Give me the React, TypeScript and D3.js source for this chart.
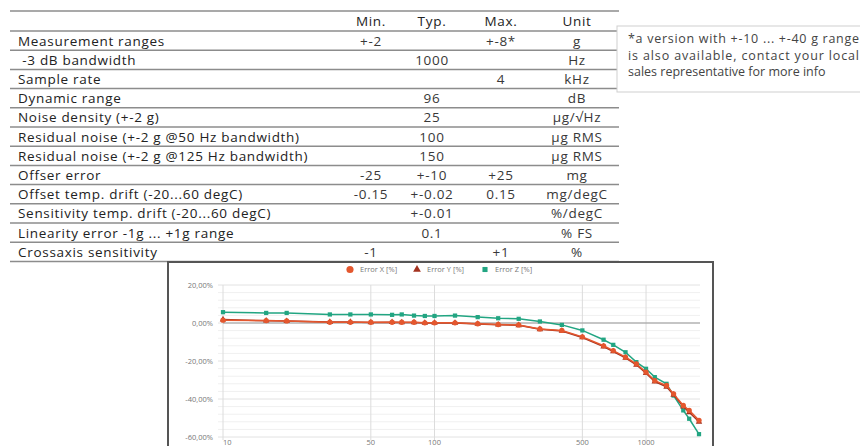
import React, { useRef, useEffect } from "react";
import * as d3 from "d3";

// spec table
const headers = ["Min.", "Typ.", "Max.", "Unit"];
const params = [
  "Measurement ranges",
  " -3 dB bandwidth",
  "Sample rate",
  "Dynamic range",
  "Noise density (+-2 g)",
  "Residual noise (+-2 g @50 Hz bandwidth)",
  "Residual noise (+-2 g @125 Hz bandwidth)",
  "Offser error",
  "Offset temp. drift (-20...60 degC)",
  "Sensitivity temp. drift (-20...60 degC)",
  "Linearity error -1g ... +1g range",
  "Crossaxis sensitivity",
];
const minVals = ["+-2", "", "", "", "", "", "", "-25", "-0.15", "", "", "-1"];
const typVals = ["", "1000", "", "96", "25", "100", "150", "+-10", "+-0.02", "+-0.01", "0.1", ""];
const maxVals = ["+-8*", "", "4", "", "", "", "", "+25", "0.15", "", "", "+1"];
const units = ["g", "Hz", "kHz", "dB", "μg/√Hz", "μg RMS", "μg RMS", "mg", "mg/degC", "%/degC", "% FS", "%"];

const noteLines = [
  "*a version with +-10 ... +-40 g range",
  "is also available, contact your local",
  "sales representative for more info",
];

// frequency response
const freqs = [10, 16, 20, 32, 40, 50, 63, 70, 80, 90, 100, 125, 160, 200, 250, 315, 400, 500, 630, 700, 800, 900, 1000, 1100, 1250, 1350, 1500, 1600, 1780];
const errorX = [1.5, 1.3, 1.1, 0.4, 0.4, 0.4, 0.4, 0.4, 0.4, 0.1, 0.1, 0.1, -0.4, -0.8, -1.0, -3.1, -3.9, -7.3, -12, -14.5, -18, -21.5, -25.9, -30.3, -32.9, -37.3, -43.4, -46, -51.2];
const errorY = [1.8, 1.2, 1.0, 0.5, 0.5, 0.3, 0.4, 0.3, 0.3, 0.0, 0.0, 0.0, -0.5, -0.9, -1.2, -3.3, -4.2, -7.6, -12.4, -15, -18.4, -22, -26.4, -30.8, -33.6, -37.8, -44, -47, -52];
const errorZ = [5.7, 5.3, 5.3, 4.5, 4.5, 4.5, 4.3, 4.5, 3.9, 3.7, 3.7, 3.9, 3.1, 2.5, 2.2, 0.8, -1.0, -3.9, -8.8, -11.5, -15.4, -20.6, -24.1, -28.5, -32, -38.2, -46, -50.4, -58.5];
const xTicks = [10, 50, 100, 500, 1000];
const yTicks = [20, 0, -20, -40, -60];

const seriesNames = ["Error X [%]", "Error Y [%]", "Error Z [%]"];

export default function App() {
  const ref = useRef<SVGSVGElement>(null);

  useEffect(() => {
    const svg = d3.select(ref.current);
    svg.selectAll("*").remove();

    // ----- TABLE -----
    const font = "'Open Sans', sans-serif";
    const tLeft = 10, tRight = 619;
    const headTop = 11, headH = 20, rowH = 19.2;
    const colX = [371, 432, 501, 577];
    const lineCol = "#8c8c8c";

    const table = svg.append("g").style("font-family", font).style("font-size", "13.5px")
      .style("letter-spacing", "0.7px").attr("fill", "#222");

    table.append("line")
      .attr("x1", tLeft).attr("x2", tRight).attr("y1", headTop).attr("y2", headTop)
      .attr("stroke", lineCol).attr("stroke-width", 1.5);

    headers.forEach((h, i) => {
      table.append("text").attr("x", colX[i]).attr("y", headTop + headH / 2 + 5)
        .attr("text-anchor", "middle").text(h);
    });

    params.forEach((p, i) => {
      const top = headTop + headH + i * rowH;
      table.append("line")
        .attr("x1", tLeft).attr("x2", tRight).attr("y1", top).attr("y2", top)
        .attr("stroke", lineCol).attr("stroke-width", 1.5);
      const yb = top + rowH / 2 + 5;
      table.append("text").attr("x", 18).attr("y", yb).style("white-space", "pre").text(p);
      [minVals[i], typVals[i], maxVals[i], units[i]].forEach((v, j) => {
        if (!v) return;
        table.append("text").attr("x", colX[j]).attr("y", yb)
          .attr("text-anchor", "middle").attr("fill", "#383838").text(v);
      });
    });
    const tBottom = headTop + headH + params.length * rowH;
    table.append("line")
      .attr("x1", tLeft).attr("x2", tRight).attr("y1", tBottom).attr("y2", tBottom)
      .attr("stroke", lineCol).attr("stroke-width", 1.5);

    // note box
    const note = svg.append("g");
    note.append("rect").attr("x", 617).attr("y", 26).attr("width", 260).attr("height", 66)
      .attr("fill", "#fff").attr("stroke", "#cfcfcf").attr("stroke-width", 1);
    noteLines.forEach((t, i) => {
      const tx = note.append("text").attr("x", 628).attr("y", 43 + i * 16.5)
        .style("font-family", font).style("font-size", "12.5px").attr("fill", "#444").text(t);
      if (i < noteLines.length - 1) tx.attr("textLength", 231).attr("lengthAdjust", "spacing");
    });

    // ----- CHART -----
    const chart = svg.append("g").style("font-family", font);
    chart.append("rect").attr("x", 168).attr("y", 262).attr("width", 545).attr("height", 200)
      .attr("fill", "#fff").attr("stroke", "#555").attr("stroke-width", 2);

    const x = d3.scaleLog().domain([10, 1780]).range([223, 699]);
    const y = d3.scaleLinear().domain([-60, 20]).range([437, 285]);

    // minor horizontal grid
    const minor = d3.range(-60, 20.1, 4);
    chart.selectAll("line.hgrid").data(minor).enter().append("line")
      .attr("x1", 218).attr("x2", 700)
      .attr("y1", d => y(d)).attr("y2", d => y(d))
      .attr("stroke", d => (d % 20 === 0 ? "#e2e2e2" : "#f0f0f0")).attr("stroke-width", 1);

    // vertical grid
    chart.selectAll("line.vgrid").data(xTicks).enter().append("line")
      .attr("x1", d => x(d)).attr("x2", d => x(d))
      .attr("y1", y(20)).attr("y2", y(-60) + 3)
      .attr("stroke", "#dcdcdc").attr("stroke-width", 1);

    // zero line
    chart.append("line").attr("x1", x(10)).attr("x2", 700).attr("y1", y(0)).attr("y2", y(0))
      .attr("stroke", "#9a9a9a").attr("stroke-width", 1.2);

    chart.selectAll("text.ytick").data(yTicks).enter().append("text")
      .attr("x", 213).attr("y", d => y(d) + 2.5)
      .attr("text-anchor", "end").style("font-size", "7.5px").attr("fill", "#777")
      .text(d => d3.format(".2f")(d).replace(".", ",").replace("−", "-") + "%");

    chart.selectAll("text.xtick").data(xTicks).enter().append("text")
      .attr("x", d => x(d))
      .attr("y", 445)
      .attr("text-anchor", d => (d === 10 ? "start" : "middle"))
      .style("font-size", "7.5px").attr("fill", "#777")
      .text(d => String(d));

    const colors = ["#e4572e", "#a3321f", "#22a582"];
    const allSeries = [errorX, errorY, errorZ];
    const line = d3.line<number>().x((_, i) => x(freqs[i])).y(d => y(d));
    const sym = [d3.symbolCircle, d3.symbolTriangle, d3.symbolSquare];

    // draw Z first, X on top
    [2, 1, 0].forEach(s => {
      const data = allSeries[s];
      chart.append("path").datum(data).attr("d", line)
        .attr("fill", "none").attr("stroke", colors[s]).attr("stroke-width", 1.5);
      chart.selectAll(`path.m${s}`).data(data).enter().append("path")
        .attr("d", d3.symbol().type(sym[s]).size(s === 0 ? 22 : 18))
        .attr("transform", (d, i) => `translate(${x(freqs[i])},${y(d)})`)
        .attr("fill", colors[s]);
    });

    // legend
    const legX = [350, 417, 485];
    seriesNames.forEach((n, i) => {
      chart.append("path")
        .attr("d", d3.symbol().type(sym[i]).size(i === 0 ? 40 : 26))
        .attr("transform", `translate(${legX[i]},${269.5})`)
        .attr("fill", colors[i]);
      chart.append("text").attr("x", legX[i] + 10).attr("y", 272)
        .style("font-size", "7.5px").attr("fill", "#777").text(n);
    });
  }, []);

  return (
    <svg ref={ref} width={860} height={446}
      style={{ position: "absolute", left: 0, top: 0, background: "#fff" }} />
  );
}
